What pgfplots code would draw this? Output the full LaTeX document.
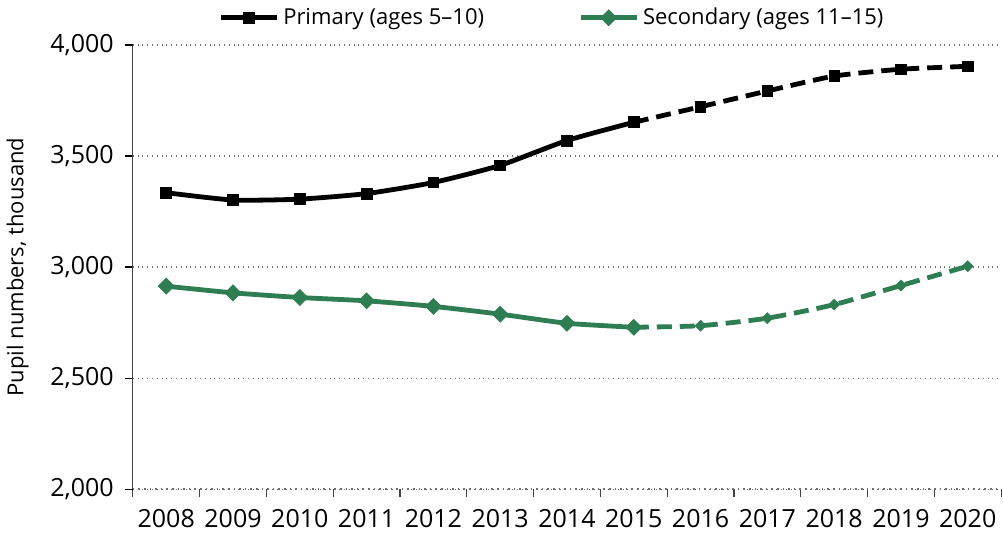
\documentclass[border=0pt]{standalone}
\usepackage{fontspec}
\setmainfont{Open Sans}
\usepackage{pgfplots}
\pgfplotsset{compat=1.18}
\definecolor{primblack}{RGB}{0,0,0}
\definecolor{secgreen}{RGB}{47,125,82}
\definecolor{gridgray}{RGB}{110,110,110}

% years 2008..2020 plotted at 0..12
\pgfplotstableread{
x prim
0 3335
1 3302
2 3306
3 3331
4 3381
5 3458
6 3570
7 3652
}\primhist
\pgfplotstableread{
x prim
7 3652
8 3722
9 3793
10 3860
11 3891
12 3904
}\primproj
\pgfplotstableread{
x sec
0 2914
1 2884
2 2863
3 2848
4 2823
5 2788
6 2747
7 2729
}\sechist
\pgfplotstableread{
x sec
7 2729
8 2736
9 2770
10 2831
11 2917
12 3004
}\secproj

\begin{document}
\begin{tikzpicture}
\begin{axis}[
  scale only axis,
  width=434pt, height=222pt,
  xmin=-0.5, xmax=12.5,
  ymin=2000, ymax=4000,
  ytick={2000,2500,...,4000},
  xtick={0,...,12},
  xticklabels={2008,2009,2010,2011,2012,2013,2014,2015,2016,2017,2018,2019,2020},
  minor xtick={-0.5,0.5,...,12.5},
  major x tick style={draw=none},
  minor x tick style={gridgray!60!black, line width=0.6pt},
  tick align=outside,
  major tick length=4pt,
  minor tick length=4pt,
  ytick style={black, line width=0.6pt},
  axis x line*=bottom,
  axis y line*=left,
  x axis line style={gridgray, dotted, line width=0.8pt, -},
  y axis line style={black!75, line width=0.6pt, -},
  ymajorgrids,
  grid style={gridgray, dotted, line width=0.6pt},
  /pgf/number format/assume math mode=true,
  /pgf/number format/1000 sep={,},
  yticklabel style={font=\fontsize{12.5}{14}\selectfont, /pgf/number format/fixed, xshift=-2pt},
  xticklabel style={font=\fontsize{12.5}{14}\selectfont, yshift=-2.5pt},
  ylabel={Pupil numbers, thousand},
  ylabel style={font=\fontsize{11}{13}\selectfont, yshift=4pt},
  legend style={draw=none, fill=none, at={(0.5,1.02)}, anchor=south, xshift=-7pt,
    font=\fontsize{11}{13}\selectfont, legend columns=2,
    /tikz/every even column/.append style={column sep=45pt}},
  legend image code/.code={%
    \draw[mark repeat=2, mark phase=2] plot coordinates {(0pt,0pt) (14pt,0pt) (28pt,0pt)};},
  legend cell align=left,
  clip=false,
]
\addplot[primblack, line width=2.4pt, smooth, tension=0.35, mark=square*, mark size=2.7pt,
  mark options={solid, line width=0.4pt}] table[x=x, y=prim] {\primhist};
\addlegendentry{Primary (ages 5--10)}
\addplot[secgreen, line width=2.4pt, smooth, tension=0.35, mark=square*, mark size=2.8pt,
  mark options={solid, line width=0.4pt, rotate=45}] table[x=x, y=sec] {\sechist};
\addlegendentry{Secondary (ages 11--15)}
\addplot[forget plot, primblack, line width=2.4pt, smooth, tension=0.35, dash pattern=on 7.5pt off 4pt,
  mark=square*, mark size=2.6pt, mark options={solid, line width=0.4pt}] table[x=x, y=prim] {\primproj};
\addplot[forget plot, secgreen, line width=2.4pt, smooth, tension=0.35, dash pattern=on 7.5pt off 4pt,
  mark=square*, mark size=1.9pt, mark options={solid, line width=0.4pt, rotate=45}] table[x=x, y=sec] {\secproj};
\end{axis}
\end{tikzpicture}
\end{document}
